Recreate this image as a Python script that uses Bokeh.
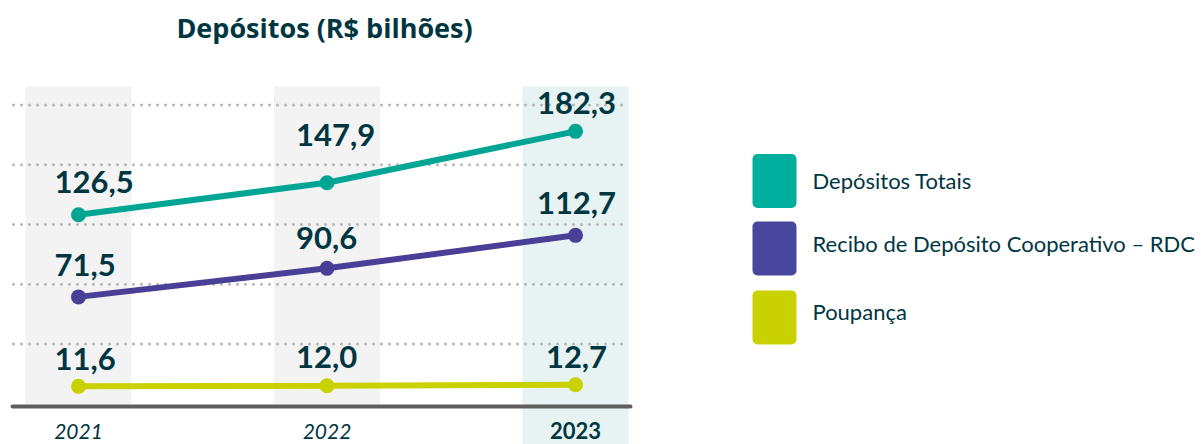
from bokeh.plotting import figure
from bokeh.models import Range1d
from bokeh.core.properties import value
from bokeh.embed import file_html
from bokeh.resources import INLINE

# ---------------- data ----------------
years = ["2021", "2022", "2023"]
totais = [126.5, 147.9, 182.3]
rdc = [71.5, 90.6, 112.7]
poupanca = [11.6, 12.0, 12.7]
series_names = ["Depósitos Totais", "Recibo de Depósito Cooperativo – RDC", "Poupança"]
grid_values = [40, 80, 120, 160, 200]
title_text = "Depósitos (R$ bilhões)"

# ---------------- style ----------------
C_TOT = "#00A693"
C_RDC = "#4A3F96"
C_POU = "#C9D200"
SW_COLORS = ["#00AE9D", "#49479D", "#C9D200"]
DARK = "#003641"
FONT = "Lato"

W, H = 1201, 444
X0_PX, DX_PX = 78, 248.5     # pixel of first category, pixels per category
Y0_PX, DY_PX = 403.2, 1.494  # pixel of value 0, pixels per unit


def px_x(px):
    return (px - X0_PX) / DX_PX


def px_y(py):
    return (Y0_PX - py) / DY_PX


def fmt(v):
    return f"{v:.1f}".replace(".", ",")


p = figure(width=W, height=H, x_range=Range1d(px_x(0), px_x(W)),
           y_range=Range1d(px_y(H), px_y(0)), x_axis_type=None, y_axis_type=None,
           min_border=0, output_backend="svg", toolbar_location=None)
p.outline_line_color = None
p.grid.visible = False
p.background_fill_color = "white"
p.border_fill_color = "white"

xs = list(range(len(years)))
half = 53 / DX_PX
band_top = px_y(86)
# background bands
p.quad(left=[x - half for x in xs[:2]], right=[x + half for x in xs[:2]],
       top=band_top, bottom=px_y(404), fill_color="#F3F3F3", line_color=None)
p.quad(left=[xs[2] - half], right=[xs[2] + half], top=band_top,
       bottom=px_y(H), fill_color="#E6F3F2", line_color=None)

# dotted grid
p.segment(x0=px_x(13), x1=px_x(629), y0=grid_values, y1=grid_values,
          line_color="#B5B5B5", line_width=3, line_dash="0 8", line_cap="round")

# baseline
p.segment(x0=[px_x(12)], x1=[px_x(630)], y0=[px_y(406)], y1=[px_y(406)],
          line_color="#5E5E5E", line_width=4, line_cap="round")

# series
for vals, col in [(totais, C_TOT), (rdc, C_RDC), (poupanca, C_POU)]:
    p.line(xs, vals, line_color=col, line_width=6)
    p.scatter(xs, vals, size=15, fill_color=col, line_color=None)

# value labels
aligns = ["left", "left", "center"]
xoffs = [-24, -31, 1]
for vals, yoffs in [(totais, [-33, -48, -28]), (rdc, [-32, -30, -32]),
                    (poupanca, [-27, -28.5, -27.5])]:
    p.text(x=xs, y=vals, text=[fmt(v) for v in vals], text_align=aligns,
           x_offset=xoffs, y_offset=yoffs, text_baseline="middle",
           text_font=value(FONT), text_font_style="bold", text_font_size="31px",
           text_color=DARK)

# year labels
p.text(x=xs[:2], y=[px_y(430.5)] * 2, text=years[:2], text_align="center",
       text_baseline="middle", text_font=value(FONT), text_font_style="italic",
       text_font_size="21px", text_color=DARK)
p.text(x=[xs[2]], y=[px_y(430)], text=[years[2]], text_align="center",
       text_baseline="middle", text_font=value(FONT), text_font_style="bold",
       text_font_size="22px", text_color=DARK)

# title
p.text(x=[px_x(324)], y=[px_y(27)], text=[title_text], text_align="center",
       text_baseline="middle", text_font=value("Open Sans"), text_font_style="bold",
       text_font_size="27px", text_color=DARK)

# legend
centers = [180.5, 248, 317]
text_centers = [183, 246, 314]
p.quad(left=px_x(752), right=px_x(796), top=[px_y(c - 27) for c in centers],
       bottom=[px_y(c + 27) for c in centers], fill_color=SW_COLORS,
       line_color=None, border_radius=5)
p.text(x=px_x(812), y=[px_y(c - 2.6) for c in text_centers], text=series_names,
       text_align="left", text_baseline="middle", text_font=value(FONT),
       text_font_size="22px", text_color=DARK)

open("out.html", "w").write(file_html(p, INLINE))
